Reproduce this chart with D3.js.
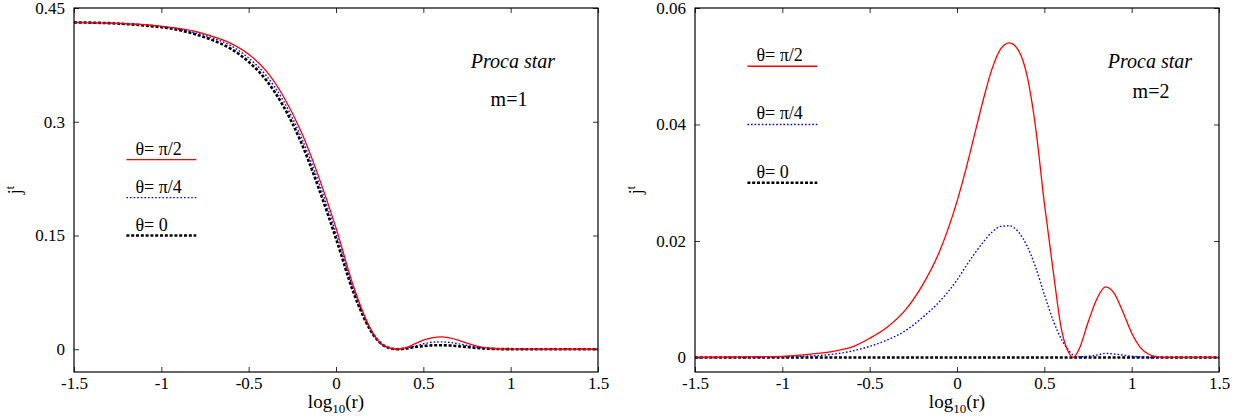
<!DOCTYPE html>
<html>
<head>
<meta charset="utf-8">
<script src="https://cdn.jsdelivr.net/npm/d3@7/dist/d3.min.js"></script>
<style>
  html, body { margin: 0; padding: 0; background: #fff; }
  svg { display: block; }
  text { font-family: "Liberation Serif", "Times New Roman", serif; fill: #000; }
</style>
</head>
<body>
<svg id="chart" width="1248" height="419"></svg>
<script>
// ---------- data ----------
const xTicks = [-1.5, -1, -0.5, 0, 0.5, 1, 1.5];
const xTickLabels = ["-1.5", "-1", "-0.5", "0", "0.5", "1", "1.5"];

const m1YTicks = [0, 0.15, 0.3, 0.45];
const m1YTickLabels = ["0", "0.15", "0.3", "0.45"];
const m2YTicks = [0, 0.02, 0.04, 0.06];
const m2YTickLabels = ["0", "0.02", "0.04", "0.06"];

const seriesNames = ["θ= π/2", "θ= π/4", "θ= 0"];

// m = 1 panel
const m1X = [-1.5, -1.3, -1.1, -0.9, -0.8, -0.7, -0.6, -0.5, -0.4, -0.3, -0.2, -0.1, 0, 0.1, 0.2, 0.25, 0.3, 0.35, 0.4, 0.45, 0.5, 0.55, 0.6, 0.65, 0.7, 0.75, 0.8, 0.9, 1.0, 1.2, 1.5];
const m1Half = [0.431, 0.430, 0.428, 0.423, 0.419, 0.412, 0.403, 0.389, 0.367, 0.333, 0.287, 0.228, 0.160, 0.083, 0.026, 0.009, 0.002, 0.000, 0.002, 0.007, 0.012, 0.015, 0.0163, 0.015, 0.012, 0.008, 0.0045, 0.001, 0.0002, 0, 0];
const m1Quarter = [0.431, 0.430, 0.428, 0.422, 0.417, 0.410, 0.400, 0.384, 0.361, 0.327, 0.280, 0.221, 0.153, 0.079, 0.025, 0.009, 0.002, 0.000, 0.0015, 0.004, 0.0072, 0.0092, 0.0097, 0.009, 0.0072, 0.005, 0.003, 0.0008, 0.0002, 0, 0];
const m1Zero = [0.431, 0.430, 0.427, 0.421, 0.415, 0.407, 0.396, 0.379, 0.355, 0.320, 0.273, 0.213, 0.146, 0.075, 0.024, 0.009, 0.002, 0.000, 0.001, 0.0028, 0.0042, 0.0051, 0.0053, 0.005, 0.004, 0.003, 0.0018, 0.0005, 0.0001, 0, 0];

// m = 2 panel
const m2X = [-1.5, -1.2, -1.0, -0.9, -0.8, -0.7, -0.6, -0.5, -0.4, -0.3, -0.2, -0.1, 0, 0.05, 0.1, 0.15, 0.2, 0.25, 0.3, 0.35, 0.4, 0.45, 0.5, 0.55, 0.6, 0.64, 0.665, 0.7, 0.75, 0.8, 0.85, 0.9, 0.95, 1.0, 1.05, 1.1, 1.15, 1.2, 1.5];
const m2Half = [0, 0.0001, 0.0002, 0.0004, 0.0007, 0.0011, 0.0018, 0.0033, 0.0052, 0.0080, 0.0123, 0.0182, 0.0268, 0.0322, 0.0382, 0.0442, 0.0495, 0.0530, 0.0540, 0.0528, 0.0485, 0.0395, 0.0265, 0.0150, 0.0045, 0.0008, 0, 0.0015, 0.0060, 0.0100, 0.0121, 0.0110, 0.0078, 0.0042, 0.0017, 0.0005, 0.0001, 0, 0];
const m2Quarter = [0, 0, 0.0001, 0.0002, 0.0003, 0.0006, 0.0011, 0.0019, 0.0030, 0.0045, 0.0068, 0.0096, 0.0133, 0.0156, 0.0178, 0.0198, 0.0215, 0.0225, 0.0226, 0.0216, 0.0192, 0.0155, 0.0108, 0.0064, 0.0030, 0.0012, 0.0004, 0.0001, 0.0002, 0.0004, 0.0007, 0.0006, 0.0004, 0.0002, 0.0001, 0, 0, 0, 0];
const m2Zero = [0, 0, 0, 0, 0, 0, 0, 0, 0, 0, 0, 0, 0, 0, 0, 0, 0, 0, 0, 0, 0, 0, 0, 0, 0, 0, 0, 0, 0, 0, 0, 0, 0, 0, 0, 0, 0, 0, 0];

// ---------- drawing ----------
const svg = d3.select("#chart");

const styles = [
  { stroke: "#ff0000", width: 1.3, dash: null },
  { stroke: "#0000ff", width: 1.4, dash: "1.6,2" },
  { stroke: "#000000", width: 2.6, dash: "3,1.8" }
];

function drawPanel(p) {
  const x = d3.scaleLinear().domain([-1.5, 1.5]).range([p.left, p.right]);
  const y = d3.scaleLinear().domain(p.yDomain).range([p.bottom, p.top]);
  const g = svg.append("g");

  // curves (black first, red on top)
  const line = d3.line().x(d => x(d[0])).y(d => y(d[1])).curve(d3.curveMonotoneX);
  [2, 1, 0].forEach(i => {
    const pts = p.xs.map((xv, k) => [xv, p.series[i][k]]);
    g.append("path")
      .attr("d", line(pts))
      .attr("fill", "none")
      .attr("stroke", styles[i].stroke)
      .attr("stroke-width", styles[i].width)
      .attr("stroke-dasharray", styles[i].dash);
  });

  // axes with inward ticks
  const fmtX = (d, i) => xTickLabels[i];
  const fmtY = (d, i) => p.yLabels[i];
  const axB = g.append("g").attr("transform", `translate(0,${p.bottom})`)
    .call(d3.axisBottom(x).tickValues(xTicks).tickFormat(fmtX).tickSizeInner(-5).tickSizeOuter(0).tickPadding(5));
  const axT = g.append("g").attr("transform", `translate(0,${p.top})`)
    .call(d3.axisTop(x).tickValues(xTicks).tickFormat("").tickSizeInner(-5).tickSizeOuter(0));
  const axL = g.append("g").attr("transform", `translate(${p.left},0)`)
    .call(d3.axisLeft(y).tickValues(p.yTicks).tickFormat(fmtY).tickSizeInner(-5).tickSizeOuter(0).tickPadding(9));
  const axR = g.append("g").attr("transform", `translate(${p.right},0)`)
    .call(d3.axisRight(y).tickValues(p.yTicks).tickFormat("").tickSizeInner(-5).tickSizeOuter(0));
  [axB, axT, axL, axR].forEach(a => {
    a.select(".domain").remove();
    a.selectAll("line").attr("stroke", "#333");
    a.attr("font-family", null).attr("font-size", null);
    a.selectAll("text").style("font-family", '"Liberation Serif", "Times New Roman", serif').style("font-size", "17px").attr("fill", "#000");
  });

  // frame
  g.append("rect")
    .attr("x", p.left).attr("y", p.top)
    .attr("width", p.right - p.left).attr("height", p.bottom - p.top)
    .attr("fill", "none").attr("stroke", "#000").attr("stroke-width", 1.2);

  // legend (placed in data coordinates)
  p.legendY.forEach((ly, i) => {
    g.append("line")
      .attr("x1", x(-1.2)).attr("x2", x(-0.8))
      .attr("y1", y(ly)).attr("y2", y(ly))
      .attr("stroke", styles[i].stroke)
      .attr("stroke-width", styles[i].width)
      .attr("stroke-dasharray", styles[i].dash);
    g.append("text")
      .attr("x", x(-1.2) + 9).attr("y", y(ly) - 5)
      .style("font-size", "18px")
      .text(seriesNames[i]);
  });

  // annotation
  g.append("text")
    .attr("x", p.annX).attr("y", p.annY1)
    .attr("text-anchor", "middle")
    .style("font-size", "20px").style("font-style", "italic")
    .text("Proca star");
  g.append("text")
    .attr("x", p.annX2).attr("y", p.annY2)
    .attr("text-anchor", "middle")
    .style("font-size", "20px")
    .text(p.mLabel);

  // y label  j^t
  const yl = g.append("text")
    .attr("transform", `translate(${p.left - 53},${(p.top + p.bottom) / 2}) rotate(-90)`)
    .attr("text-anchor", "middle")
    .style("font-size", "18px");
  yl.append("tspan").text("j");
  yl.append("tspan").attr("dy", -7).style("font-size", "12px").text("t");

  // x label log10(r)
  const xl = g.append("text")
    .attr("x", (p.left + p.right) / 2).attr("y", 408)
    .attr("text-anchor", "middle")
    .style("font-size", "19px");
  xl.append("tspan").text("log");
  xl.append("tspan").attr("dy", 5).style("font-size", "13px").text("10");
  xl.append("tspan").attr("dy", -5).text("(r)");
}

drawPanel({
  left: 74, right: 598, top: 8, bottom: 372,
  yDomain: [-0.03, 0.45], yTicks: m1YTicks, yLabels: m1YTickLabels,
  xs: m1X, series: [m1Half, m1Quarter, m1Zero],
  legendY: [0.25, 0.2, 0.15],
  annX: 513, annY1: 68, annX2: 509, annY2: 106, mLabel: "m=1"
});

drawPanel({
  left: 695, right: 1219, top: 8, bottom: 372,
  yDomain: [-0.0025, 0.06], yTicks: m2YTicks, yLabels: m2YTickLabels,
  xs: m2X, series: [m2Half, m2Quarter, m2Zero],
  legendY: [0.05, 0.04, 0.03],
  annX: 1150, annY1: 68, annX2: 1151, annY2: 98, mLabel: "m=2"
});
</script>
</body>
</html>
